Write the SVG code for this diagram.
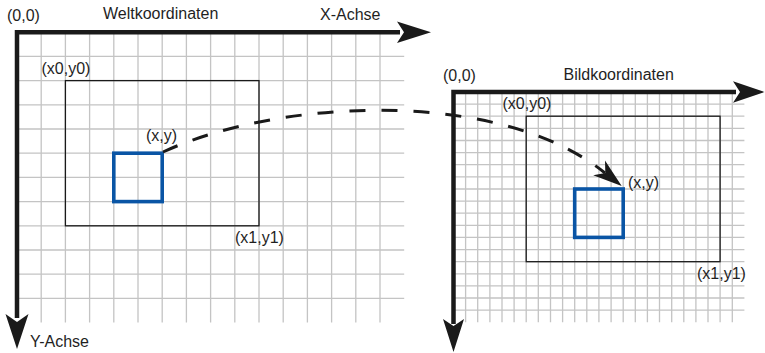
<svg xmlns="http://www.w3.org/2000/svg" width="765" height="353" viewBox="0 0 765 353">
<style>
.grid{fill:none;stroke:#c4c4c4;stroke-width:1.3}
.axis{fill:none;stroke:#1a1a1a;stroke-width:4.5;stroke-linejoin:miter;stroke-linecap:butt}
.head{fill:#1a1a1a;stroke:none}
.frame{fill:none;stroke:#1a1a1a;stroke-width:1.3}
.point{fill:none;stroke:#0a55a5;stroke-width:3.6}
.lbl{font-family:"Liberation Sans",Arial,Helvetica,sans-serif;font-size:16px;fill:#1f1f1f}
.link{fill:none;stroke:#1a1a1a;stroke-width:3;stroke-dasharray:16 16}
</style>
<rect width="765" height="353" fill="#ffffff"/>

<g id="world">
<path class="grid" d="M41.2,32V322.6M65.4,32V322.6M89.6,32V322.6M113.8,32V322.6M138,32V322.6M162.2,32V322.6M186.4,32V322.6M210.6,32V322.6M234.8,32V322.6M259,32V322.6M283.2,32V322.6M307.4,32V322.6M331.6,32V322.6M355.8,32V322.6M380,32V322.6
M17,56.4H404.2M17,80.6H404.2M17,104.8H404.2M17,129H404.2M17,153.2H404.2M17,177.4H404.2M17,201.6H404.2M17,225.8H404.2M17,250H404.2M17,274.2H404.2M17,298.4H404.2"/>
<path class="axis" d="M400,32.2H17V318"/>
<path class="head" d="M431,32.2L397,21.5L404,32.2L397,42.9Z"/>
<path class="head" d="M17,349L5.5,314L17,322L28.5,314Z"/>
<text class="lbl" x="7" y="20.5">(0,0)</text>
<text class="lbl" x="103" y="18.5">Weltkoordinaten</text>
<text class="lbl" x="320" y="19.5">X-Achse</text>
<text class="lbl" x="30" y="346.5">Y-Achse</text>
</g>
<g id="world-window">
<rect class="frame" x="65.4" y="80.6" width="193.6" height="145.2"/>
<text class="lbl" x="41.5" y="74">(x0,y0)</text>
<text class="lbl" x="235" y="243">(x1,y1)</text>
</g>
<g id="world-point">
<rect class="point" x="113.8" y="153.2" width="48.4" height="48.4"/>
<text class="lbl" x="146" y="141">(x,y)</text>
</g>

<g id="image">
<path class="grid" d="M465.6,92V322.3M477.7,92V322.3M489.9,92V322.3M502,92V322.3M514.1,92V322.3M526.2,92V322.3M538.3,92V322.3M550.5,92V322.3M562.6,92V322.3M574.7,92V322.3M586.8,92V322.3M598.9,92V322.3M611.1,92V322.3M623.2,92V322.3M635.3,92V322.3M647.4,92V322.3M659.5,92V322.3M671.7,92V322.3M683.8,92V322.3M695.9,92V322.3M708,92V322.3M720.1,92V322.3M732.3,92V322.3
M453.5,104.1H744.4M453.5,116.2H744.4M453.5,128.4H744.4M453.5,140.5H744.4M453.5,152.6H744.4M453.5,164.7H744.4M453.5,176.8H744.4M453.5,189H744.4M453.5,201.1H744.4M453.5,213.2H744.4M453.5,225.3H744.4M453.5,237.4H744.4M453.5,249.6H744.4M453.5,261.7H744.4M453.5,273.8H744.4M453.5,285.9H744.4M453.5,298H744.4M453.5,310.2H744.4"/>
<path class="axis" d="M736,92H453.5V324"/>
<path class="head" d="M764.5,92L733,81.3L740,92L733,102.7Z"/>
<path class="head" d="M453.5,352L443,319L453.5,326L464,319Z"/>
<text class="lbl" x="443" y="80.5">(0,0)</text>
<text class="lbl" x="563.5" y="79.5">Bildkoordinaten</text>
</g>
<g id="image-window">
<rect class="frame" x="526.2" y="116.2" width="193.9" height="145.5"/>
<text class="lbl" x="502.5" y="108.5">(x0,y0)</text>
<text class="lbl" x="697" y="278.5">(x1,y1)</text>
</g>
<g id="image-point">
<rect class="point" x="574.7" y="189" width="48.5" height="48.4"/>
<text class="lbl" x="628" y="188">(x,y)</text>
</g>

<g id="connectors">
<path class="link" d="M163,152C280,98 500,88 605,173"/>
<path class="head" d="M621.7,186L593.2,175.3L605.3,172.9L605,160.5Z"/>
</g>
</svg>
